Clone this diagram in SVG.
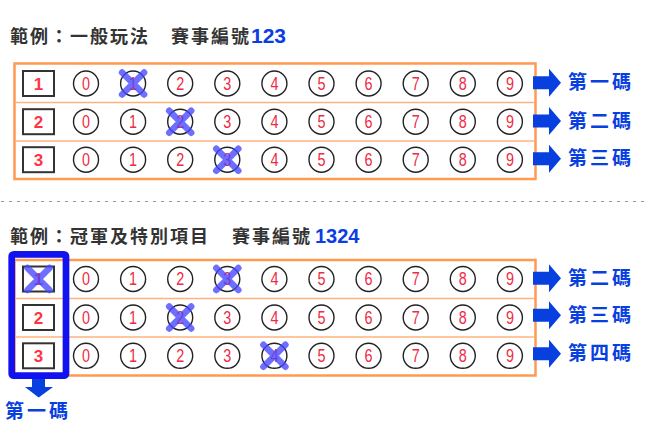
<svg xmlns="http://www.w3.org/2000/svg" xmlns:xlink="http://www.w3.org/1999/xlink" width="647" height="429" viewBox="0 0 647 429">
<style>
.title{font-family:"Noto Sans CJK TC","Noto Sans CJK SC",sans-serif;font-size:18px;font-weight:bold;letter-spacing:2px;fill:#333}
.num{font-family:"Liberation Sans",Arial,sans-serif;font-weight:bold;fill:#0a3de6}
.outer{fill:#fff;stroke:#ff9a52;stroke-width:2.5}
.sep{stroke:#ffb27c;stroke-width:1.6}
.circ{fill:none;stroke:#222;stroke-width:1.4}
.d{font-family:"Liberation Sans",Arial,sans-serif;font-size:17.5px;fill:#ee2a44;text-anchor:middle}
.box{fill:#fff;stroke:#333;stroke-width:2}
.bd{font-family:"Liberation Sans",Arial,sans-serif;font-size:17px;font-weight:bold;fill:#ff3344;text-anchor:middle}
.x{fill:none;stroke:#4545ff;stroke-opacity:0.78;stroke-width:6.5;stroke-linecap:round}
.arr{fill:#0840e0}
.lab{font-family:"Noto Sans CJK TC","Noto Sans CJK SC",sans-serif;font-size:19px;font-weight:bold;letter-spacing:3px;fill:#0840e0}
</style>
<defs>
<path id="xm" class="x" d="M-11,-11 L11,11 M11,-11 L-11,11"/>
<path id="ra" class="arr" d="M533,-6.5 H549 V-14 L561,0 L549,14 V6.5 H533 Z"/>
<g id="digits">
<circle class="circ" cx="86" cy="0" r="12.5"/><text class="d" x="86" y="6.3" textLength="8" lengthAdjust="spacingAndGlyphs">0</text>
<circle class="circ" cx="133.1" cy="0" r="12.5"/><text class="d" x="133.1" y="6.3" textLength="8" lengthAdjust="spacingAndGlyphs">1</text>
<circle class="circ" cx="180.2" cy="0" r="12.5"/><text class="d" x="180.2" y="6.3" textLength="8" lengthAdjust="spacingAndGlyphs">2</text>
<circle class="circ" cx="227.3" cy="0" r="12.5"/><text class="d" x="227.3" y="6.3" textLength="8" lengthAdjust="spacingAndGlyphs">3</text>
<circle class="circ" cx="274.4" cy="0" r="12.5"/><text class="d" x="274.4" y="6.3" textLength="8" lengthAdjust="spacingAndGlyphs">4</text>
<circle class="circ" cx="321.5" cy="0" r="12.5"/><text class="d" x="321.5" y="6.3" textLength="8" lengthAdjust="spacingAndGlyphs">5</text>
<circle class="circ" cx="368.6" cy="0" r="12.5"/><text class="d" x="368.6" y="6.3" textLength="8" lengthAdjust="spacingAndGlyphs">6</text>
<circle class="circ" cx="415.7" cy="0" r="12.5"/><text class="d" x="415.7" y="6.3" textLength="8" lengthAdjust="spacingAndGlyphs">7</text>
<circle class="circ" cx="462.8" cy="0" r="12.5"/><text class="d" x="462.8" y="6.3" textLength="8" lengthAdjust="spacingAndGlyphs">8</text>
<circle class="circ" cx="509.9" cy="0" r="12.5"/><text class="d" x="509.9" y="6.3" textLength="8" lengthAdjust="spacingAndGlyphs">9</text>
</g>
</defs>
<rect width="647" height="429" fill="#fff"/>

<g id="title1">
<text class="title" x="10" y="43">範例：一般玩法</text>
<text class="title" x="171" y="43">賽事編號</text>
<text class="num" x="251" y="43" font-size="21">123</text>
</g>

<g id="table1">
<rect class="outer" x="14.5" y="63.5" width="521" height="115.5"/>
<line class="sep" x1="15.5" y1="102.5" x2="534.5" y2="102.5"/>
<line class="sep" x1="15.5" y1="141" x2="534.5" y2="141"/>
<g id="t1row1" transform="translate(0,83.5)">
<rect class="box" x="23" y="-12.5" width="31" height="25"/><text class="bd" x="38.5" y="6">1</text>
<use xlink:href="#digits"/>
<use xlink:href="#xm" x="133.1" y="0"/>
</g>
<g id="t1row2" transform="translate(0,121.7)">
<rect class="box" x="23" y="-12.5" width="31" height="25"/><text class="bd" x="38.5" y="6">2</text>
<use xlink:href="#digits"/>
<use xlink:href="#xm" x="180.2" y="0"/>
</g>
<g id="t1row3" transform="translate(0,159.7)">
<rect class="box" x="23" y="-12.5" width="31" height="25"/><text class="bd" x="38.5" y="6">3</text>
<use xlink:href="#digits"/>
<use xlink:href="#xm" x="227.3" y="0"/>
</g>
</g>

<line id="divider" x1="1" y1="201.5" x2="645" y2="201.5" stroke="#999" stroke-width="1" stroke-dasharray="3 5"/>

<g id="title2">
<text class="title" x="10" y="243">範例：冠軍及特別項目</text>
<text class="title" x="232" y="243">賽事編號</text>
<text class="num" x="315" y="243" font-size="20">1324</text>
</g>

<g id="table2">
<rect class="outer" x="14.5" y="260" width="521" height="115.5"/>
<line class="sep" x1="15.5" y1="298.5" x2="534.5" y2="298.5"/>
<line class="sep" x1="15.5" y1="337" x2="534.5" y2="337"/>
<g id="t2row1" transform="translate(0,279)">
<rect class="box" x="23" y="-12.5" width="31" height="25"/><text class="bd" x="38.5" y="6">1</text>
<use xlink:href="#digits"/>
<use xlink:href="#xm" x="38.5" y="0"/>
<use xlink:href="#xm" x="227.3" y="0"/>
</g>
<g id="t2row2" transform="translate(0,317.5)">
<rect class="box" x="23" y="-12.5" width="31" height="25"/><text class="bd" x="38.5" y="6">2</text>
<use xlink:href="#digits"/>
<use xlink:href="#xm" x="180.2" y="0"/>
</g>
<g id="t2row3" transform="translate(0,355.8)">
<rect class="box" x="23" y="-12.5" width="31" height="25"/><text class="bd" x="38.5" y="6">3</text>
<use xlink:href="#digits"/>
<use xlink:href="#xm" x="274.4" y="0"/>
</g>
</g>

<g id="highlight">
<rect x="11.7" y="254.4" width="54.3" height="121.3" rx="2" fill="none" stroke="#1212f0" stroke-width="6.7"/>
</g>

<g id="connectors">
<use xlink:href="#ra" y="82.7"/>
<use xlink:href="#ra" y="121"/>
<use xlink:href="#ra" y="158.8"/>
<use xlink:href="#ra" y="278.2"/>
<use xlink:href="#ra" y="315.2"/>
<use xlink:href="#ra" y="353.8"/>
<path class="arr" d="M32,379 H45 V387 H53 L38.7,397.5 L25,387 H32 Z"/>
</g>

<g id="labels">
<text class="lab" x="568" y="89.2">第一碼</text>
<text class="lab" x="568" y="127.5">第二碼</text>
<text class="lab" x="568" y="165.3">第三碼</text>
<text class="lab" x="568" y="284.7">第二碼</text>
<text class="lab" x="568" y="321.7">第三碼</text>
<text class="lab" x="568" y="360.3">第四碼</text>
<text class="lab" x="5" y="418">第一碼</text>
</g>
</svg>
